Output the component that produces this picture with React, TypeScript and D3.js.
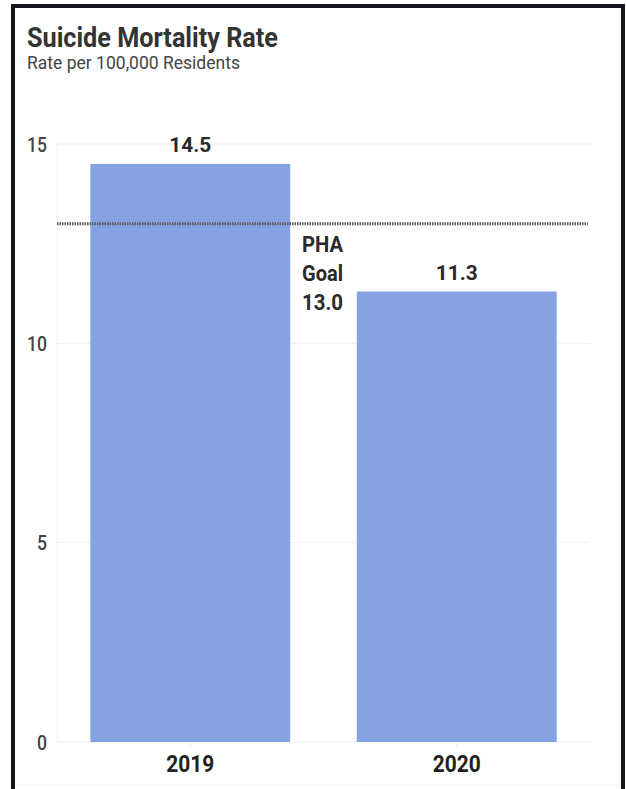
import React from "react";
import * as d3 from "d3";

const categories = ["2019", "2020"];
const values = [14.5, 11.3];
const yTicks = [0, 5, 10, 15];
const goalValue = 13.0;
const goalLabel = ["PHA", "Goal", "13.0"];
const title = "Suicide Mortality Rate";
const subtitle = "Rate per 100,000 Residents";

const W = 626;
const H = 789;
const FONT = "Roboto, 'Noto Sans', sans-serif";

export default function App() {
  const x = d3
    .scaleBand<string>()
    .domain(categories)
    .range([57, 590])
    .paddingInner(0.25)
    .paddingOuter(0.125);
  const y = d3.scaleLinear().domain([0, 15]).range([742, 144]);

  return (
    <svg
      width={W}
      height={H}
      style={{ position: "absolute", left: 0, top: 0, background: "#fff" }}
      fontFamily={FONT}
    >
      <rect x={0} y={0} width={W} height={H} fill="#fff" />
      {/* frame */}
      <rect x={13} y={6} width={610} height={800} fill="none" stroke="#15151c" strokeWidth={4} />
      <line x1={15} x2={621} y1={785} y2={785} stroke="#f0f0f0" strokeWidth={1} />

      <text x={27} y={47} fontSize={27} fontWeight={700} fill="#333" textLength={251} lengthAdjust="spacingAndGlyphs">
        {title}
      </text>
      <text x={27} y={69} fontSize={18} fill="#444" textLength={213} lengthAdjust="spacingAndGlyphs">
        {subtitle}
      </text>

      {/* grid */}
      {yTicks.map((t) => (
        <g key={t}>
          <line x1={57} x2={590} y1={y(t)} y2={y(t)} stroke="#efefef" strokeWidth={1} />
          <text
            x={47}
            y={y(t)}
            dy="0.36em"
            textAnchor="end"
            fontSize={21}
            fontWeight={500}
            fill="#444"
            textLength={String(t).length * 10}
            lengthAdjust="spacingAndGlyphs"
          >
            {t}
          </text>
        </g>
      ))}
      <line x1={57} x2={57} y1={y(15)} y2={y(0)} stroke="#f4f4f4" strokeWidth={1} />

      {/* bars */}
      {categories.map((c, i) => {
        const cx = (x(c) as number) + x.bandwidth() / 2;
        return (
          <g key={c}>
            <rect
              x={x(c)}
              y={y(values[i])}
              width={x.bandwidth()}
              height={y(0) - y(values[i])}
              fill="#85a3e3"
            />
            <text
              x={cx}
              y={y(values[i]) - 12}
              textAnchor="middle"
              fontSize={21}
              fontWeight={700}
              fill="#2a2a2a"
              textLength={42}
              lengthAdjust="spacingAndGlyphs"
            >
              {values[i].toFixed(1)}
            </text>
            <line x1={cx} x2={cx} y1={y(0)} y2={y(0) + 6} stroke="#eee" />
            <text
              x={cx}
              y={772}
              textAnchor="middle"
              fontSize={23}
              fontWeight={700}
              fill="#222"
              textLength={48}
              lengthAdjust="spacingAndGlyphs"
            >
              {c}
            </text>
          </g>
        );
      })}

      {/* goal line */}
      <line
        x1={57}
        x2={588}
        y1={y(goalValue)}
        y2={y(goalValue)}
        stroke="#5a5a5a"
        strokeWidth={3}
        strokeDasharray="1.5,1"
      />
      {goalLabel.map((s, i) => (
        <text
          key={s}
          x={302}
          y={252 + i * 29}
          fontSize={22}
          fontWeight={700}
          fill="#2a2a2a"
          textLength={41}
          lengthAdjust="spacingAndGlyphs"
        >
          {s}
        </text>
      ))}
    </svg>
  );
}
